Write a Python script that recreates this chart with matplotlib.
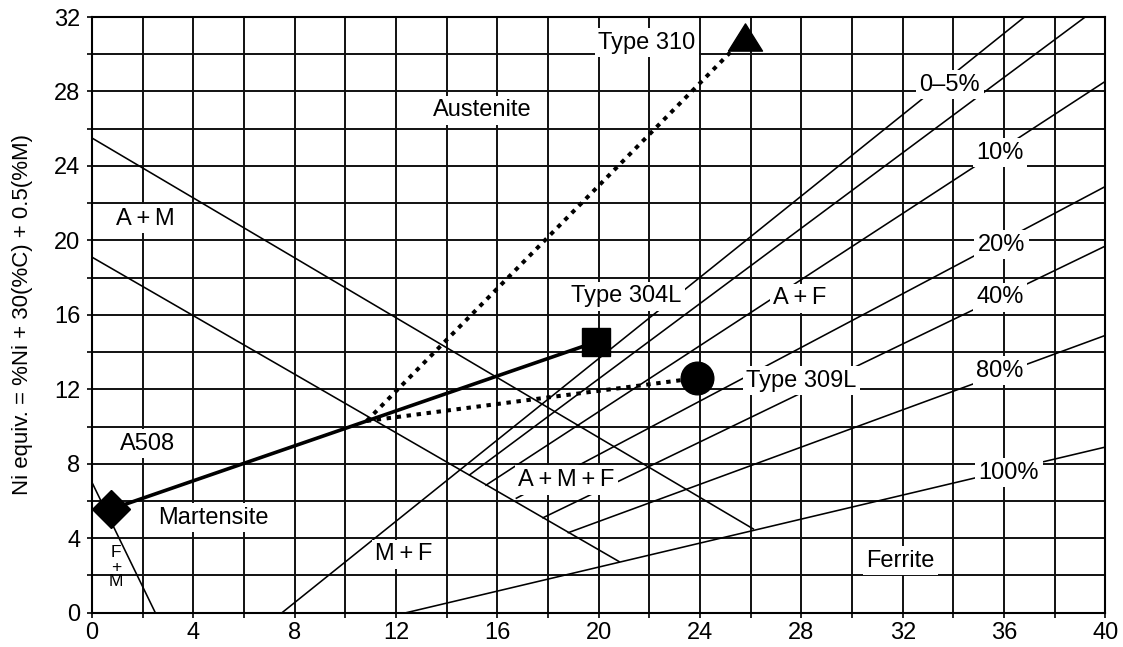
# -*- coding: utf-8 -*-
"""
Schaeffler 组织图 (A508 / 304L / 309L / 310)
输出: out.png (1123x647)
"""

import numpy as np
import matplotlib
matplotlib.use("Agg")
import matplotlib.pyplot as plt

plt.rcParams["font.family"] = ["Liberation Sans", "DejaVu Sans"]

# ── 数据: 相界线端点 (Cr当量, Ni当量) ─────────────────────
a_am_x = [0.0, 26.1]          # Austenite / A+M
a_am_y = [25.5, 4.5]
m_bound_x = [0.0, 20.8]       # Martensite / A+M+F
m_bound_y = [19.1, 2.75]
fm_x = [0.0, 2.5]             # F+M 小区
fm_y = [7.0, 0.0]
mf_x = [7.5, 36.8]            # M / M+F (0% 铁素体线)
mf_y = [0.0, 32.0]

# 铁素体含量线: 5%, 10%, 20%, 40%, 80%, 100%
ferrite_x0 = [14.9, 15.55, 16.75, 17.8, 18.8, 12.4]
ferrite_y0 = [7.4, 6.85, 6.15, 5.1, 4.3, 0.0]
ferrite_x1 = [39.2, 40.0, 40.0, 40.0, 40.0, 40.0]
ferrite_y1 = [32.0, 28.55, 22.9, 19.7, 14.9, 8.9]
ferrite_labels = ["0–5%", "10%", "20%", "40%", "80%", "100%"]

# 合金成分点
alloy_names = ["A508", "Type 304L", "Type 309L", "Type 310"]
alloy_x = [0.77, 19.9, 23.86, 25.77]
alloy_y = [5.57, 14.55, 12.6, 30.9]
mix_x = [10.84]               # A508 + 304L 稀释点
mix_y = [10.3]

# 区域名称 (加号两侧用窄空格)
T = "\u2009"
region_names = ["Austenite", f"A{T}+{T}M", f"A{T}+{T}F", "Martensite", f"M{T}+{T}F",
                f"A{T}+{T}M{T}+{T}F", "Ferrite", "F\n+\nM"]

# ── 画图 ─────────────────────────────────────────────────
fig = plt.figure(figsize=(11.23, 6.47), dpi=100)
ax = fig.add_axes([0.0819, 0.053, 0.9025, 0.9207])

ax.set_xlim(0, 40)
ax.set_ylim(0, 32)
ax.set_xticks(np.arange(0, 41, 4))
ax.set_xticks(np.arange(2, 40, 4), minor=True)
ax.set_yticks(np.arange(0, 33, 4))
ax.set_yticks(np.arange(2, 32, 4), minor=True)
ax.grid(True, which="both", color="#111111", linewidth=1.4, zorder=0.5)
ax.set_axisbelow(True)
ax.tick_params(which="both", direction="out", length=3.5, width=1.2, labelsize=17, pad=3.5)
ax.tick_params(axis="y", pad=5)
for s in ax.spines.values():
    s.set_linewidth(1.5)

# 相界线
lk = dict(color="black", linewidth=1.15, zorder=2)
ax.plot(a_am_x, a_am_y, **lk)
ax.plot(m_bound_x, m_bound_y, **lk)
ax.plot(fm_x, fm_y, **lk)
ax.plot(mf_x, mf_y, **lk)
for x0, y0, x1, y1 in zip(ferrite_x0, ferrite_y0, ferrite_x1, ferrite_y1):
    ax.plot([x0, x1], [y0, y1], **lk)

# 文字 (白底遮线)
box = dict(facecolor="white", edgecolor="none", pad=2.5)
region_pos = [(15.4, 27.0), (2.09, 21.16), (27.94, 16.9), (4.81, 5.09),
              (12.31, 3.15), (18.73, 7.13), (31.92, 2.78), (0.95, 2.45)]
for name, (tx, ty) in zip(region_names, region_pos):
    if "\n" in name:
        ax.text(tx, ty, name, fontsize=12.5, ha="center", va="center",
                linespacing=0.95, zorder=4)
    else:
        ax.text(tx, ty, name, fontsize=17, ha="center", va="center", bbox=box, zorder=4)

flabel_pos = [(33.86, 28.37), (35.83, 24.7), (35.9, 19.77), (35.83, 16.95), (35.83, 13.0), (36.19, 7.51)]
for name, (tx, ty) in zip(ferrite_labels, flabel_pos):
    ax.text(tx, ty, name, fontsize=17, ha="center", va="center", bbox=box, zorder=4)

alabel_pos = [(2.19, 9.07), (21.1, 16.99), (28.0, 12.47), (21.9, 30.63)]
for name, (tx, ty) in zip(alloy_names, alabel_pos):
    ax.text(tx, ty, name, fontsize=17, ha="center", va="center", bbox=box, zorder=4)

# 稀释线
ax.plot(alloy_x[:2], alloy_y[:2], color="black", linewidth=2.6, zorder=5)
dot = dict(color="black", linewidth=2.9, linestyle=(0, (1.1, 1.4)), zorder=5)
ax.plot([mix_x[0], alloy_x[2]], [mix_y[0], alloy_y[2]], **dot)
ax.plot([mix_x[0], alloy_x[3]], [mix_y[0], alloy_y[3]], **dot)

# 标记点
ax.plot(alloy_x[0], alloy_y[0], marker="D", markersize=19, color="black", zorder=6)
ax.plot(alloy_x[1], alloy_y[1], marker="s", markersize=20, color="black", zorder=6)
ax.plot(alloy_x[2], alloy_y[2], marker="o", markersize=23.5, color="black", zorder=6)
tri = [(-1, -0.8), (1, -0.8), (0, 0.8), (-1, -0.8)]
ax.plot(alloy_x[3], alloy_y[3], marker=tri, markersize=24.5, color="black", zorder=6)

ax.set_ylabel("Ni equiv. = %Ni + 30(%C) + 0.5(%M)", fontsize=16)
ax.yaxis.set_label_coords(-0.058, 0.5)

fig.savefig("out.png", dpi=100)
plt.close(fig)
